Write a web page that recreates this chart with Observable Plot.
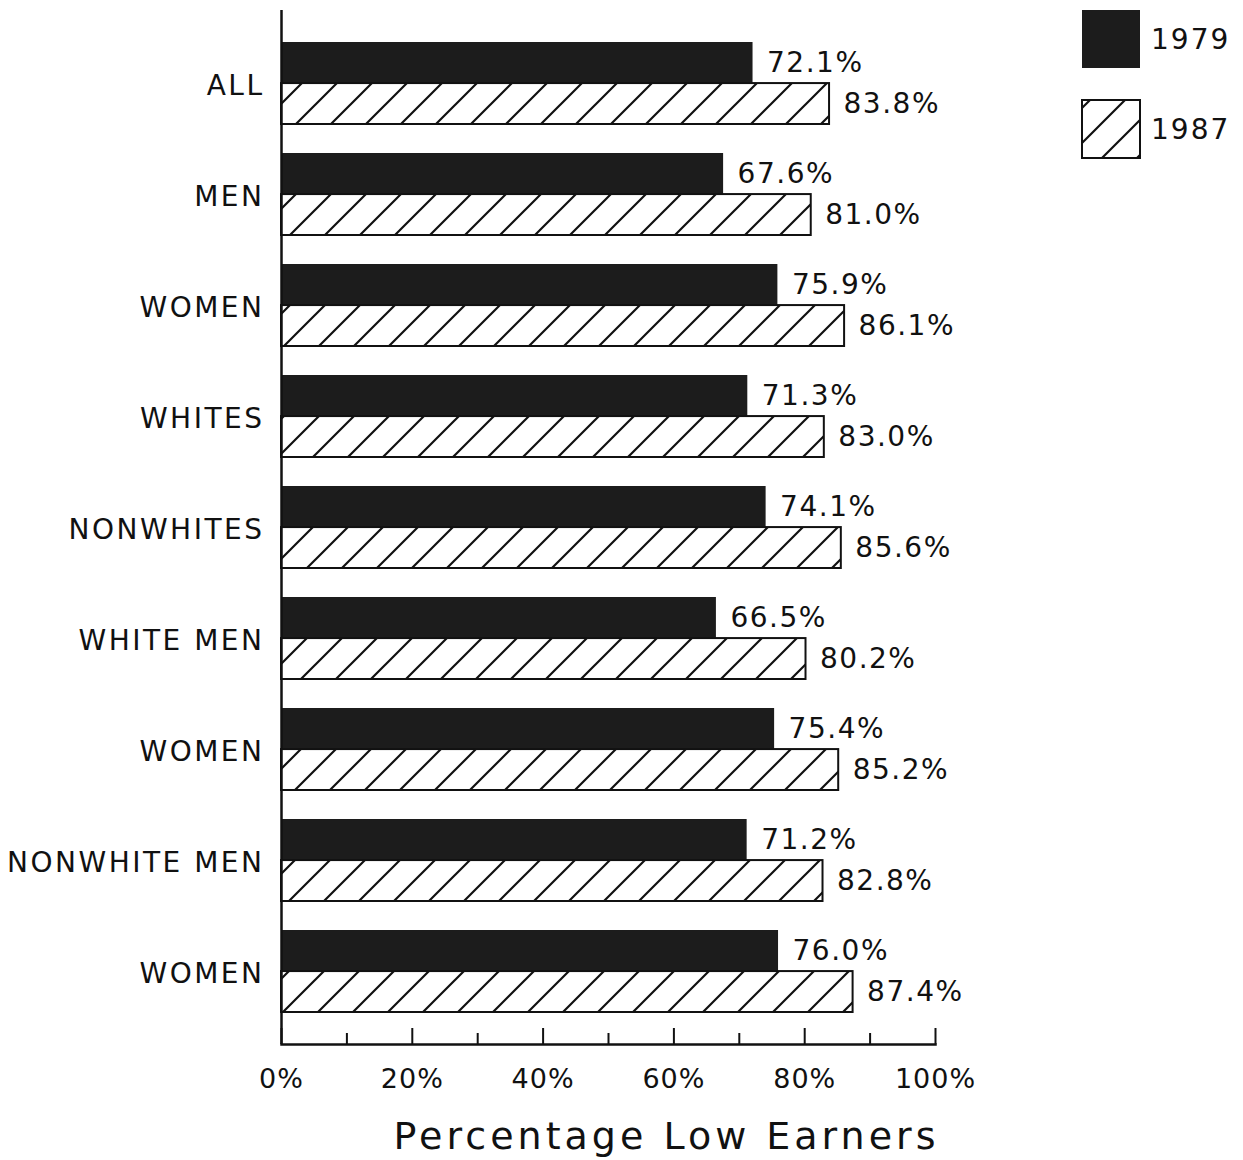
<!DOCTYPE html>
<html>
<head>
<meta charset="utf-8">
<script src="https://cdn.jsdelivr.net/npm/d3@7"></script>
<script src="https://cdn.jsdelivr.net/npm/@observablehq/plot@0.6"></script>
<style>
  html, body { margin: 0; padding: 0; background: #fff; }
  #chart svg { display: block; }
  #chart g[aria-label="y-axis tick label"] text { letter-spacing: 2.5px; }
  #chart g[aria-label="x-axis tick label"] text { letter-spacing: 1px; }
</style>
</head>
<body>
<div id="chart"></div>
<script>
// ---- data ----
const categories = ["ALL", "MEN", "WOMEN", "WHITES", "NONWHITES", "WHITE MEN", "WOMEN", "NONWHITE MEN", "WOMEN"];
const values1979 = [72.1, 67.6, 75.9, 71.3, 74.1, 66.5, 75.4, 71.2, 76.0];
const values1987 = [83.8, 81.0, 86.1, 83.0, 85.6, 80.2, 85.2, 82.8, 87.4];
const years = ["1979", "1987"];
const majorTicks = [0, 20, 40, 60, 80, 100];
const minorTicks = [10, 30, 50, 70, 90];
const xTitle = "Percentage Low Earners";

const rows = categories.map((c, i) => ({key: i, label: c, v1979: values1979[i], v1987: values1987[i]}));

const W = 1243, H = 1160;
const mTop = 10, mBottom = 116, mLeft = 281, mRight = 308;
const pInner = 0.263, pOuter = 0.27;
const step = (H - mTop - mBottom) / (categories.length - pInner + 2 * pOuter);
const half = step * (1 - pInner) / 2;
const frameH = H - mTop - mBottom;
const FONT = "DejaVu Sans, sans-serif";

// render helper: adds letter-spacing to a mark's group
const spaced = (ls) => (index, scales, values, dims, context, next) => {
  const g = next(index, scales, values, dims, context);
  if (g) g.setAttribute("letter-spacing", ls);
  return g;
};

function extras(index, scales, values, dims) {
  const ns = "http://www.w3.org/2000/svg";
  const g = document.createElementNS(ns, "g");
  const defs = document.createElementNS(ns, "defs");
  const pat = document.createElementNS(ns, "pattern");
  pat.setAttribute("id", "hatch");
  pat.setAttribute("patternUnits", "userSpaceOnUse");
  pat.setAttribute("width", 35);
  pat.setAttribute("height", 35);
  const bg = document.createElementNS(ns, "rect");
  bg.setAttribute("width", 35); bg.setAttribute("height", 35); bg.setAttribute("fill", "#fff");
  pat.appendChild(bg);
  const p = document.createElementNS(ns, "path");
  p.setAttribute("d", "M0,35 L35,0 M-5,5 L5,-5 M30,40 L40,30");
  p.setAttribute("stroke", "#111");
  p.setAttribute("stroke-width", 2.2);
  pat.appendChild(p);
  defs.appendChild(pat);
  g.appendChild(defs);
  // legend
  const lx = dims.width - 161;
  const items = [{y: 10, fill: "#1c1c1c", stroke: "none"}, {y: 100, fill: "url(#hatch)", stroke: "#111"}];
  items.forEach((it, i) => {
    const r = document.createElementNS(ns, "rect");
    r.setAttribute("x", lx); r.setAttribute("y", it.y);
    r.setAttribute("width", 58); r.setAttribute("height", 58);
    r.setAttribute("fill", it.fill); r.setAttribute("stroke", it.stroke);
    r.setAttribute("stroke-width", 2);
    g.appendChild(r);
    const t = document.createElementNS(ns, "text");
    t.setAttribute("x", lx + 69); t.setAttribute("y", it.y + 29);
    t.setAttribute("dy", "0.35em");
    t.setAttribute("text-anchor", "start");
    t.setAttribute("font-size", 28);
    t.setAttribute("letter-spacing", 2);
    t.setAttribute("fill", "#111");
    t.textContent = years[i];
    g.appendChild(t);
  });
  return g;
}

const chart = Plot.plot({
  width: W,
  height: H,
  marginTop: mTop,
  marginBottom: mBottom,
  marginLeft: mLeft,
  marginRight: mRight,
  style: {fontFamily: FONT, background: "#fff", color: "#111"},
  x: {domain: [0, 100]},
  y: {domain: d3.range(categories.length), type: "band", paddingInner: pInner, paddingOuter: pOuter},
  marks: [
    extras,
    Plot.barX(rows, {x: "v1979", y: "key", insetBottom: half, fill: "#1c1c1c"}),
    Plot.barX(rows, {x: "v1987", y: "key", insetTop: half, fill: "url(#hatch)", stroke: "#111", strokeWidth: 2}),
    Plot.text(rows, {x: "v1979", y: "key", dy: -half / 2, dx: 14, text: d => d.v1979.toFixed(1) + "%", textAnchor: "start", fontSize: 28, fill: "#111", render: spaced(1.5)}),
    Plot.text(rows, {x: "v1987", y: "key", dy: half / 2, dx: 14, text: d => d.v1987.toFixed(1) + "%", textAnchor: "start", fontSize: 28, fill: "#111", render: spaced(1.5)}),
    Plot.axisY({tickSize: 0, tickPadding: 17, dy: 3, tickFormat: i => categories[i], fontSize: 28, label: null}),
    Plot.ruleX([0], {stroke: "#111", strokeWidth: 2.5}),
    Plot.frame({anchor: "bottom", stroke: "#111", strokeWidth: 2.5}),
    Plot.ruleX(majorTicks, {x: d => d, insetTop: frameH - 16, stroke: "#111", strokeWidth: 2}),
    Plot.ruleX(minorTicks, {x: d => d, insetTop: frameH - 11, stroke: "#111", strokeWidth: 2}),
    Plot.axisX(majorTicks, {tickSize: 0, tickPadding: 24, tickFormat: d => d + "%", fontSize: 27, label: null}),
    Plot.text([xTitle], {frameAnchor: "bottom", dx: 58, dy: 104, fontSize: 38, fill: "#111", render: spaced(4)})
  ]
});
document.getElementById("chart").appendChild(chart);
</script>
</body>
</html>
